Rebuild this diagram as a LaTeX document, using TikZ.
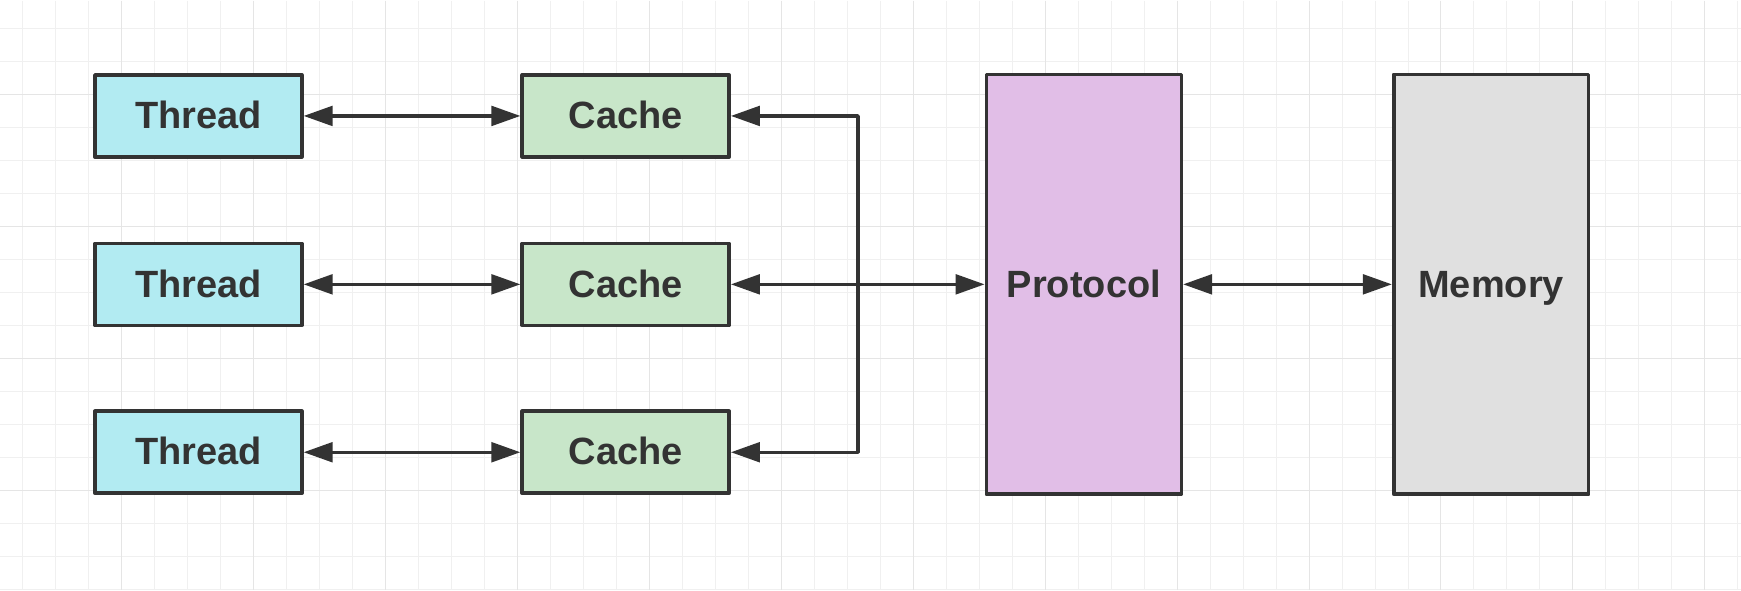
\documentclass[tikz,border=0pt]{standalone}
\usepackage{fontspec}
\setmainfont{Liberation Sans}
\usetikzlibrary{arrows.meta}
\definecolor{ink}{HTML}{333333}
\definecolor{threadfill}{HTML}{B2EBF2}
\definecolor{cachefill}{HTML}{C8E6C9}
\definecolor{protofill}{HTML}{E1BEE7}
\definecolor{memfill}{HTML}{E0E0E0}
\begin{document}
\begin{tikzpicture}[x=0.5pt, y=-0.5pt,
		box/.style = {draw=ink, line width=1.8pt, line join=round, text=ink,
			font=\bfseries\fontsize{19}{22}\selectfont, inner sep=0pt,
			text height=14pt, text depth=1.3pt},
		smallbox/.style = {box, minimum width=103.5pt, minimum height=41pt},
		tallbox/.style = {box, minimum width=97.5pt, minimum height=210pt},
		link/.style = {draw=ink, line width=1.7pt, line join=round,
			{Triangle[length=14.5pt, width=9.8pt]}-{Triangle[length=14.5pt, width=9.8pt]}}
	]
	\def\colthread{198}
	\def\colcache{625.5}
	\def\busx{858}
	% grid
	\fill[white] (0,0) rectangle (1741,590);
	\foreach \gx in {22.3,55.3,...,1741} \draw[line width=0.5pt, black!6] (\gx,0) -- (\gx,590);
	\foreach \gy in {28.3,61.3,...,590} \draw[line width=0.5pt, black!6] (0,\gy) -- (1741,\gy);
	\foreach \gx in {121.3,253.3,...,1741} \draw[line width=0.5pt, black!10] (\gx,0) -- (\gx,590);
	\foreach \gy in {94.3,226.3,...,590} \draw[line width=0.5pt, black!10] (0,\gy) -- (1741,\gy);
	% threads and caches
	\foreach \row/\ry in {1/115.5, 2/284, 3/452} {
		\node[smallbox, fill=threadfill] (t\row) at (\colthread,\ry) {Thread};
		\node[smallbox, fill=cachefill] (c\row) at (\colcache,\ry) {Cache};
		\draw[link] (t\row) -- (c\row);
	}
	\node[tallbox, fill=protofill] (proto) at (1084,284) {Protocol};
	\node[tallbox, fill=memfill] (mem) at (1491.5,284) {Memory};
	\coordinate (bustop) at (\busx,115.5);
	\coordinate (busbot) at (\busx,452);
	\draw[link] (c1.east) -- (bustop) -- (busbot) -- (c3.east);
	\draw[link] (c2) -- (proto);
	\draw[link] (proto) -- (mem);
	\useasboundingbox (0,0) rectangle (1741,590);
\end{tikzpicture}
\end{document}
